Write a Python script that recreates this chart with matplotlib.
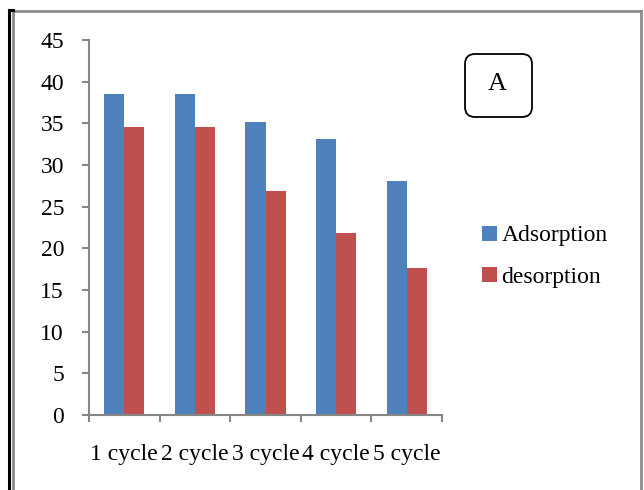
import matplotlib
matplotlib.use("Agg")
import matplotlib.pyplot as plt
from matplotlib.patches import FancyBboxPatch
from matplotlib.lines import Line2D
from matplotlib.transforms import IdentityTransform
import numpy as np

categories = ["1 cycle", "2 cycle", "3 cycle", "4 cycle", "5 cycle"]
adsorption = [38.5, 38.5, 35.2, 33.1, 28.1]
desorption = [34.6, 34.6, 26.9, 21.8, 17.6]
series_names = ["Adsorption", "desorption"]
y_ticks = [0, 5, 10, 15, 20, 25, 30, 35, 40, 45]

plt.rcParams['font.family'] = ['Liberation Serif', 'DejaVu Serif']

W, H = 644, 490
fig = plt.figure(figsize=(W / 100, H / 100), dpi=100)
fig.patch.set_facecolor("white")

ax_l, ax_r, ax_b, ax_t = 89, 442, 415, 40
ax = fig.add_axes([ax_l / W, 1 - ax_b / H, (ax_r - ax_l) / W, (ax_b - ax_t) / H])

x = np.arange(len(categories))
bw = 0.285
blue = "#4f81bd"
red = "#c0504d"
ax.bar(x - bw / 2, adsorption, bw, color=blue, label=series_names[0])
ax.bar(x + bw / 2, desorption, bw, color=red, label=series_names[1])

ax.set_xlim(-0.5, len(categories) - 0.5)
ax.set_ylim(0, 45)
ax.set_yticks(y_ticks)
ax.set_yticklabels([str(v) for v in y_ticks])

ax.set_xticks(x)
ax.set_xticklabels(categories)
ax.set_xticks(np.arange(len(categories) + 1) - 0.5, minor=True)
ax.tick_params(axis='x', which='major', length=0, pad=21, labelsize=17)
ax.tick_params(axis='x', which='minor', length=5, width=1.5, color="#868686", direction='out')
ax.tick_params(axis='y', which='major', length=5, width=1.5, color="#868686", direction='out',
               pad=13, labelsize=17)

for s in ["top", "right"]:
    ax.spines[s].set_visible(False)
for s in ["left", "bottom"]:
    ax.spines[s].set_color("#868686")
    ax.spines[s].set_linewidth(1.5)

leg = fig.legend(loc="upper left", bbox_to_anchor=(473 / W, 1 - 216 / H), frameon=False,
                 fontsize=17, handlelength=0.6, handleheight=0.6, handletextpad=0.2,
                 labelspacing=0.85, borderaxespad=0)

# "A" label box
box = FancyBboxPatch((465, H - 117), 67, 63, boxstyle="round,pad=0,rounding_size=10",
                     transform=IdentityTransform(), facecolor="white", edgecolor="black",
                     linewidth=1.3)
fig.patches.append(box)
fig.text(497.5 / W, 1 - 84 / H, "A", ha="center", va="center", fontsize=19)

# outer frame
def fl(x0, y0, x1, y1, color, lw):
    fig.add_artist(Line2D([x0 / W, x1 / W], [1 - y0 / H, 1 - y1 / H],
                          transform=fig.transFigure, color=color, linewidth=lw))

fl(13, 11, 641, 11, "#8c8c8c", 2.0)
fl(13, 11, 13, 490, "#8c8c8c", 2.0)
fl(641, 11, 641, 490, "#8c8c8c", 2.0)
fl(9, 10, 9, 490, "black", 2.2)
fl(9, 10, 13, 10, "black", 2.2)

fig.savefig("out.png", dpi=100)
